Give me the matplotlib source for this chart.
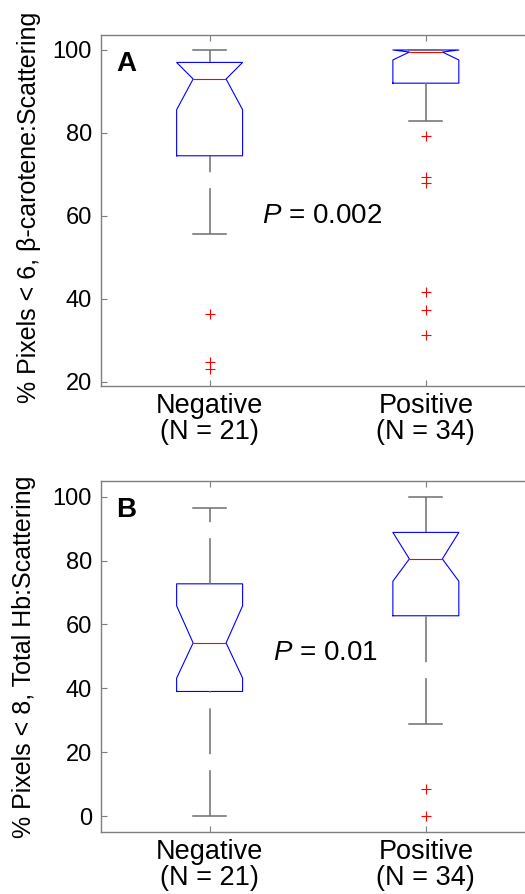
import matplotlib
matplotlib.use("Agg")
import matplotlib.pyplot as plt

plt.rcParams['font.family'] = ['Liberation Sans', 'DejaVu Sans']
plt.rcParams['mathtext.fontset'] = 'custom'
plt.rcParams['mathtext.it'] = 'Liberation Sans:italic'
plt.rcParams['mathtext.rm'] = 'Liberation Sans'
plt.rcParams['lines.scale_dashes'] = False

groups = ["Negative\n(N = 21)", "Positive\n(N = 34)"]

# panel A: beta-carotene:scattering
a_med = [93.0, 99.5]
a_q1 = [74.5, 92.0]
a_q3 = [97.0, 100.0]
a_cilo = [85.6, 97.6]
a_cihi = [97.0, 100.0]
a_whislo = [55.6, 83.0]
a_whishi = [100.0, 100.0]
a_fliers = [[36.3, 24.9, 23.2], [79.2, 69.3, 67.9, 41.7, 37.4, 31.2]]

# panel B: total Hb:scattering
b_med = [54.2, 80.5]
b_q1 = [39.0, 62.7]
b_q3 = [72.7, 88.8]
b_cilo = [43.2, 73.5]
b_cihi = [65.8, 88.8]
b_whislo = [0.0, 28.8]
b_whishi = [96.5, 100.0]
b_fliers = [[], [8.4, 0.0]]

gray = '#7f7f7f'


def make_stats(med, q1, q3, cilo, cihi, lo, hi, fl):
    out = []
    for i in range(len(med)):
        out.append(dict(med=med[i], q1=q1[i], q3=q3[i], cilo=cilo[i], cihi=cihi[i],
                        whislo=lo[i], whishi=hi[i], fliers=fl[i]))
    return out


def draw(ax, stats, ylim, yticks, ylabel, letter, ptext, pxy):
    res = ax.bxp(stats, positions=[1, 2], widths=0.305, shownotches=True,
                 boxprops=dict(color='blue', lw=0.8),
                 medianprops=dict(color='red', lw=0.8),
                 whiskerprops=dict(color='#6e6e6e', lw=1.1, linestyle=(0, (33, 11.5))),
                 capprops=dict(color='#6e6e6e', lw=1.1),
                 flierprops=dict(marker='+', markeredgecolor='red', markersize=7,
                                 markeredgewidth=0.8, linestyle='none'))
    # dashes start at the lower end of every whisker
    for k, w in enumerate(res['whiskers']):
        if k % 2 == 0:
            w.set_ydata(w.get_ydata()[::-1])
    ax.set_xlim(0.5, 2.5)
    ax.set_ylim(*ylim)
    ax.set_yticks(yticks)
    ax.set_xticks([1, 2])
    ax.set_xticklabels(groups, fontsize=19.5, linespacing=1.0)
    ax.tick_params(axis='y', labelsize=17, pad=7)
    ax.tick_params(axis='x', pad=5)
    ax.tick_params(direction='in', top=True, right=True, length=4, color=gray, width=0.8)
    for s in ax.spines.values():
        s.set_color(gray)
        s.set_linewidth(1.0)
    ax.set_ylabel(ylabel, fontsize=18)
    ax.text(0.035, 0.955, letter, transform=ax.transAxes, fontsize=20,
            fontweight='bold', va='top', ha='left')
    ax.text(pxy[0], pxy[1], ptext, fontsize=20, va='center', ha='left')


fig = plt.figure(figsize=(5.25, 8.94), dpi=100)
axA = fig.add_axes([0.1933, 0.5682, 0.8238, 0.3926])
axB = fig.add_axes([0.1933, 0.0697, 0.8238, 0.3923])

draw(axA, make_stats(a_med, a_q1, a_q3, a_cilo, a_cihi, a_whislo, a_whishi, a_fliers),
     (19.0, 103.6), [20, 40, 60, 80, 100], "% Pixels < 6, β-carotene:Scattering",
     "A", "$P$ = 0.002", (1.24, 59.9))
draw(axB, make_stats(b_med, b_q1, b_q3, b_cilo, b_cihi, b_whislo, b_whishi, b_fliers),
     (-4.9, 104.9), [0, 20, 40, 60, 80, 100], "% Pixels < 8, Total Hb:Scattering",
     "B", "$P$ = 0.01", (1.294, 51.0))

axA.yaxis.set_label_coords(-0.14, 0.51)
axB.yaxis.set_label_coords(-0.152, 0.5)

fig.savefig("out.png", dpi=100)
